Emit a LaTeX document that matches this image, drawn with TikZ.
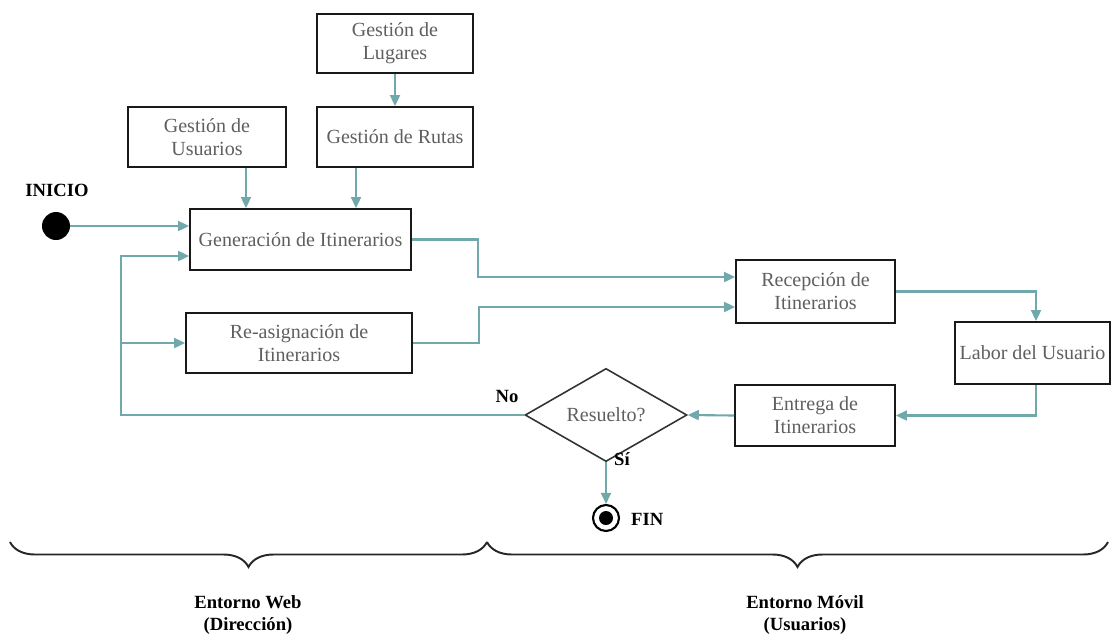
\documentclass[tikz,border=0pt]{standalone}
\usepackage{fontspec}
\setmainfont{Liberation Serif}
\usetikzlibrary{arrows.meta,shapes.geometric,decorations.pathreplacing,calc}

\definecolor{flow}{RGB}{112,168,172}
\definecolor{boxtext}{RGB}{95,95,95}

\begin{document}
\begin{tikzpicture}[x=0.02cm,y=-0.02cm,
  every node/.style={font=\fontsize{11.4}{13.2}\selectfont},
  procbox/.style={draw=black!90,line width=1.1pt,fill=white,text=boxtext,
    align=center,inner sep=0pt},
  decision/.style={diamond,draw=black!80,line width=0.9pt,fill=white,text=boxtext,
    inner sep=0pt,minimum width=3.24cm,minimum height=1.32cm},
  conn/.style={draw=flow,line width=1.2pt,-{Triangle[length=0.22cm,width=0.2cm]}},
  tag/.style={font=\fontsize{10.6}{12.5}\selectfont\bfseries,text=black,align=center},
  bracket/.style={draw=black!85,line width=1.1pt,decorate,
    decoration={brace,mirror,amplitude=0.5cm}}
]
\useasboundingbox (0,0) rectangle (1112,633);

% process boxes
\node[procbox,minimum width=3.12cm,minimum height=1.18cm] (lug) at (395,43.5) {Gestión de\\Lugares};
\node[procbox,minimum width=3.16cm,minimum height=1.2cm] (usu) at (207,137) {Gestión de\\Usuarios};
\node[procbox,minimum width=3.12cm,minimum height=1.2cm] (rut) at (395,137) {Gestión de Rutas};
\node[procbox,minimum width=4.42cm,minimum height=1.22cm] (gen) at (300.5,239.5) {Generación de Itinerarios};
\node[procbox,minimum width=4.52cm,minimum height=1.2cm] (rea) at (299,343) {Re-asignación de\\Itinerarios};
\node[procbox,minimum width=3.18cm,minimum height=1.26cm] (rec) at (815.5,291.5) {Recepción de\\Itinerarios};
\node[procbox,minimum width=3.1cm,minimum height=1.24cm] (lab) at (1032.5,353) {Labor del Usuario};
\node[procbox,minimum width=3.2cm,minimum height=1.22cm] (ent) at (815,415.5) {Entrega de\\Itinerarios};
\node[decision] (dia) at (606,415) {Resuelto?};

% start and end states
\node[circle,fill=black,minimum size=0.56cm,inner sep=0pt] (ini) at (56,226) {};
\node[tag] (initxt) at (57,190) {INICIO};
\node[circle,draw=black,line width=1.2pt,fill=white,minimum size=0.52cm,inner sep=0pt] (fin) at (606,518) {};
\node[circle,fill=black,minimum size=0.28cm,inner sep=0pt] (findot) at (fin.center) {};
\node[tag,anchor=west] (fintxt) at (625,519) {FIN};

% branch labels
\node[tag] (notxt) at (507,396) {No};
\node[tag] (sitxt) at (622,459) {Sí};

% loop corner on the left
\coordinate (loop) at (121,415);

% connectors
\draw[conn] (ini.east) -- (ini.east -| gen.west);
\draw[conn] ([xshift=0.78cm]usu.south) -- ([xshift=0.78cm]usu.south |- gen.north);
\draw[conn] ([xshift=-0.78cm]rut.south) -- ([xshift=-0.78cm]rut.south |- gen.north);
\draw[conn] (lug.south) -- (rut.north);
\draw[conn] (gen.east) -- ++(66,0) |- ([yshift=0.29cm]rec.west);
\draw[conn] (rea.east) -- ++(66,0) |- ([yshift=-0.31cm]rec.west);
\draw[conn] (rec.east) -| ([xshift=0.07cm]lab.north);
\draw[conn] ([xshift=0.07cm]lab.south) |- (ent.east);
\draw[conn] (ent.west) -- (dia.east);
\draw[conn] (dia.west) -- (loop) |- ([yshift=-0.33cm]gen.west);
\draw[conn] (loop |- rea.west) -- (rea.west);
\draw[conn] (dia.south) -- (fin.north);

% environment braces
\coordinate (bwl) at (10,542);
\coordinate (bwr) at (487,542);
\coordinate (bmr) at (1108,542);
\draw[bracket] (bwl) -- (bwr);
\draw[bracket] (bwr) -- (bmr);
\node[tag] (web) at (248,615) {Entorno Web\\(Dirección)};
\node[tag] (mov) at (805,615) {Entorno Móvil\\(Usuarios)};
\end{tikzpicture}
\end{document}
